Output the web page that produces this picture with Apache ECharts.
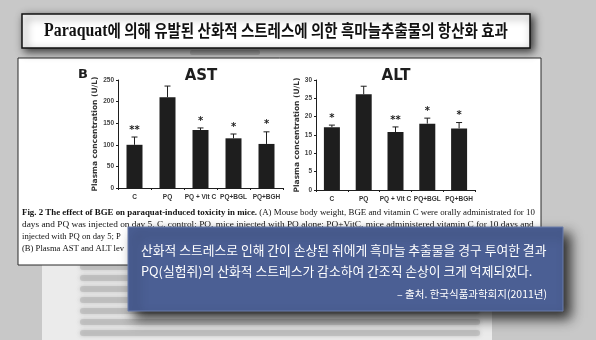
<!DOCTYPE html>
<html><head><meta charset="utf-8">
<script src="https://cdn.jsdelivr.net/npm/echarts@6/dist/echarts.min.js"></script>
<style>html,body{margin:0;padding:0;background:#c8c8c8;}#c{width:596px;height:340px;}</style>
</head><body><div id="c"></div>
<script>
// ---- data ----
const categories = ['C', 'PQ', 'PQ + Vit C', 'PQ+BGL', 'PQ+BGH'];
const astMean = [100, 210, 134, 115, 102];
const astErr = [18, 26, 5, 10, 28];
const astSig = ['**', '', '*', '*', '*'];
const altMean = [17.1, 26.1, 15.8, 18.1, 16.8];
const altErr = [0.6, 2.2, 1.4, 1.5, 1.6];
const altSig = ['*', '', '**', '*', '*'];
const astTicks = {min: 0, max: 250, interval: 50};
const altTicks = {min: 0, max: 30, interval: 5};
const titleLatin = 'Paraquat';
const titleKor = '에 의해 유발된 산화적 스트레스에 의한 흑마늘추출물의 항산화 효과';
const boxLines = ['산화적 스트레스로 인해 간이 손상된 쥐에게 흑마늘 추출물을 경구 투여한 결과',
  'PQ(실험쥐)의 산화적 스트레스가 감소하여 간조직 손상이 크게 억제되었다.'];
const sourceText = '– 출처. 한국식품과학회지(2011년)';
const captionBold = 'Fig. 2 The effect of BGE on paraquat-induced toxicity in mice.';
const captionLines = [' (A) Mouse body weight, BGE and vitamin C were orally administrated for 10',
  'days and PQ was injected on day 5. C, control; PQ, mice injected with PQ alone; PQ+VitC, mice administered vitamin C for 10 days and',
  'injected with PQ on day 5; P',
  '(B) Plasma AST and ALT lev'];

const chart = echarts.init(document.getElementById('c'), null, {renderer: 'canvas'});
const ink = '#1e1e1e';

function errSeries(mean, err, sig, idx) {
  return {
    type: 'custom', xAxisIndex: idx, yAxisIndex: idx, z: 5,
    data: mean.map((m, i) => [i, m, m + err[i]]),
    renderItem: function (params, api) {
      const p0 = api.coord([api.value(0), api.value(1)]);
      const p1 = api.coord([api.value(0), api.value(2)]);
      const s = {stroke: ink, lineWidth: 1};
      return {type: 'group', children: [
        {type: 'line', shape: {x1: p0[0], y1: p0[1], x2: p1[0], y2: p1[1]}, style: s},
        {type: 'line', shape: {x1: p1[0] - 3, y1: p1[1], x2: p1[0] + 3, y2: p1[1]}, style: s},
        {type: 'text', style: {text: sig[params.dataIndex], x: p1[0], y: p1[1] - 2,
          textAlign: 'center', textVerticalAlign: 'bottom', font: 'bold 10px "DejaVu Sans"', fill: ink}}
      ]};
    }
  };
}

function yAx(t, idx, gap) {
  return {type: 'value', gridIndex: idx, min: t.min, max: t.max, interval: t.interval,
    axisLine: {show: true, lineStyle: {color: ink, width: 1}},
    axisTick: {show: true, length: 2, lineStyle: {color: ink}},
    splitLine: {show: false},
    axisLabel: {fontSize: 6.5, fontWeight: 'bold', color: '#444', margin: 4, fontFamily: 'Liberation Sans'},
    name: 'Plasma concentration (U/L)', nameLocation: 'middle', nameGap: gap, nameRotate: 90,
    nameTextStyle: {fontSize: 7.5, fontWeight: 'bold', color: '#333', fontFamily: 'DejaVu Sans'}};
}
function xAx(idx) {
  return {type: 'category', gridIndex: idx, data: categories,
    axisLine: {show: true, lineStyle: {color: ink, width: 1}},
    axisTick: {show: true, length: 2, lineStyle: {color: ink}},
    axisLabel: {fontSize: 6.5, fontWeight: 'bold', color: '#333', margin: 6, interval: 0, fontFamily: 'Liberation Sans'}};
}

// blurred background text rows (decoration)
const blurRows = [];
[267, 278, 289, 300, 311, 322, 333].forEach(function (y) {
  blurRows.push({type: 'rect', z: -5, shape: {x: 80, y: y - 3, width: 400, height: 6, r: 3},
    style: {fill: '#b4b4b4', opacity: 0.6, shadowBlur: 4, shadowColor: 'rgba(150,150,150,0.8)'}});
});

const option = {
  animation: false,
  backgroundColor: '#c8c8c8',
  grid: [
    {left: 118, top: 80, width: 165, height: 108},
    {left: 316, top: 80, width: 159, height: 110}
  ],
  xAxis: [xAx(0), xAx(1)],
  yAxis: [yAx(astTicks, 0, 17), yAx(altTicks, 1, 15)],
  series: [
    {type: 'bar', xAxisIndex: 0, yAxisIndex: 0, data: astMean, barWidth: 16, itemStyle: {color: ink}},
    errSeries(astMean, astErr, astSig, 0),
    {type: 'bar', xAxisIndex: 1, yAxisIndex: 1, data: altMean, barWidth: 16, itemStyle: {color: ink}},
    errSeries(altMean, altErr, altSig, 1)
  ],
  graphic: [
    // light paper area at bottom
    {type: 'rect', z: -8, shape: {x: 42, y: 255, width: 450, height: 90}, style: {fill: '#ebebeb'}},
    ...blurRows,
    {type: 'rect', z: -5, shape: {x: 190, y: 50, width: 70, height: 5, r: 2}, style: {fill: '#9a9a9a', opacity: 0.6}},
    // paper panel
    {type: 'rect', z: -2, shape: {x: 18, y: 58, width: 523, height: 207},
      style: {fill: '#ffffff', stroke: '#2a2a2a', lineWidth: 1}},
    // title box
    {type: 'rect', z: 10, shape: {x: 22, y: 14, width: 508, height: 34},
      style: {fill: '#ffffff', stroke: '#111', lineWidth: 1.5, shadowBlur: 8, shadowOffsetX: 3, shadowOffsetY: 3, shadowColor: 'rgba(0,0,0,0.75)'}},
    {type: 'text', z: 11, x: 276, y: 31, scaleX: 0.88,
      style: {text: '{l|' + titleLatin + '}{k|' + titleKor + '}', textAlign: 'center', textVerticalAlign: 'middle',
        rich: {l: {font: 'bold 18px "Liberation Serif"', fill: '#111'}, k: {font: 'bold 16.5px "Noto Sans CJK KR"', fill: '#111'}}}},
    // panel labels
    {type: 'text', z: 3, style: {text: 'B', x: 83, y: 75, textAlign: 'center', textVerticalAlign: 'middle', font: 'bold 13px "DejaVu Sans"', fill: ink}},
    {type: 'text', z: 3, style: {text: 'AST', x: 201, y: 76, textAlign: 'center', textVerticalAlign: 'middle', font: 'bold 15px "DejaVu Sans"', fill: ink}},
    {type: 'text', z: 3, style: {text: 'ALT', x: 396, y: 76, textAlign: 'center', textVerticalAlign: 'middle', font: 'bold 15px "DejaVu Sans"', fill: ink}},
    // caption
    {type: 'text', z: 3, x: 22, y: 213, scaleX: 1.03, style: {x: 0, y: 0, textVerticalAlign: 'middle',
      text: '{b|' + captionBold + '}{n|' + captionLines[0] + '}',
      rich: {b: {font: 'bold 8.6px "Liberation Serif"', fill: '#111'}, n: {font: '8.6px "Liberation Serif"', fill: '#111'}}}},
    {type: 'text', z: 3, x: 22, y: 225, scaleX: 1.085, style: {x: 0, y: 0, textVerticalAlign: 'middle', text: captionLines[1], font: '8.6px "Liberation Serif"', fill: '#111'}},
    {type: 'text', z: 3, style: {x: 22, y: 237, textVerticalAlign: 'middle', text: captionLines[2], font: '8.6px "Liberation Serif"', fill: '#111'}},
    {type: 'text', z: 3, style: {x: 22, y: 249, textVerticalAlign: 'middle', text: captionLines[3], font: '8.6px "Liberation Serif"', fill: '#111'}},
    // blue box
    {type: 'rect', z: 50, shape: {x: 128, y: 227, width: 435, height: 84},
      style: {fill: '#4b5f94', stroke: '#6a7cab', lineWidth: 1, shadowBlur: 12, shadowOffsetX: 7, shadowOffsetY: 7, shadowColor: 'rgba(0,0,0,0.8)'}},
    {type: 'text', z: 51, style: {x: 141, y: 250, textVerticalAlign: 'middle', text: boxLines[0], font: '12.8px "Noto Sans CJK KR"', fill: '#ffffff'}},
    {type: 'text', z: 51, style: {x: 141, y: 271, textVerticalAlign: 'middle', text: boxLines[1], font: '12.8px "Noto Sans CJK KR"', fill: '#ffffff'}},
    {type: 'text', z: 51, style: {x: 547, y: 294, textAlign: 'right', textVerticalAlign: 'middle', text: sourceText, font: '10.5px "Noto Sans CJK KR"', fill: '#ffffff'}}
  ]
};
chart.setOption(option);
</script>
</body></html>
